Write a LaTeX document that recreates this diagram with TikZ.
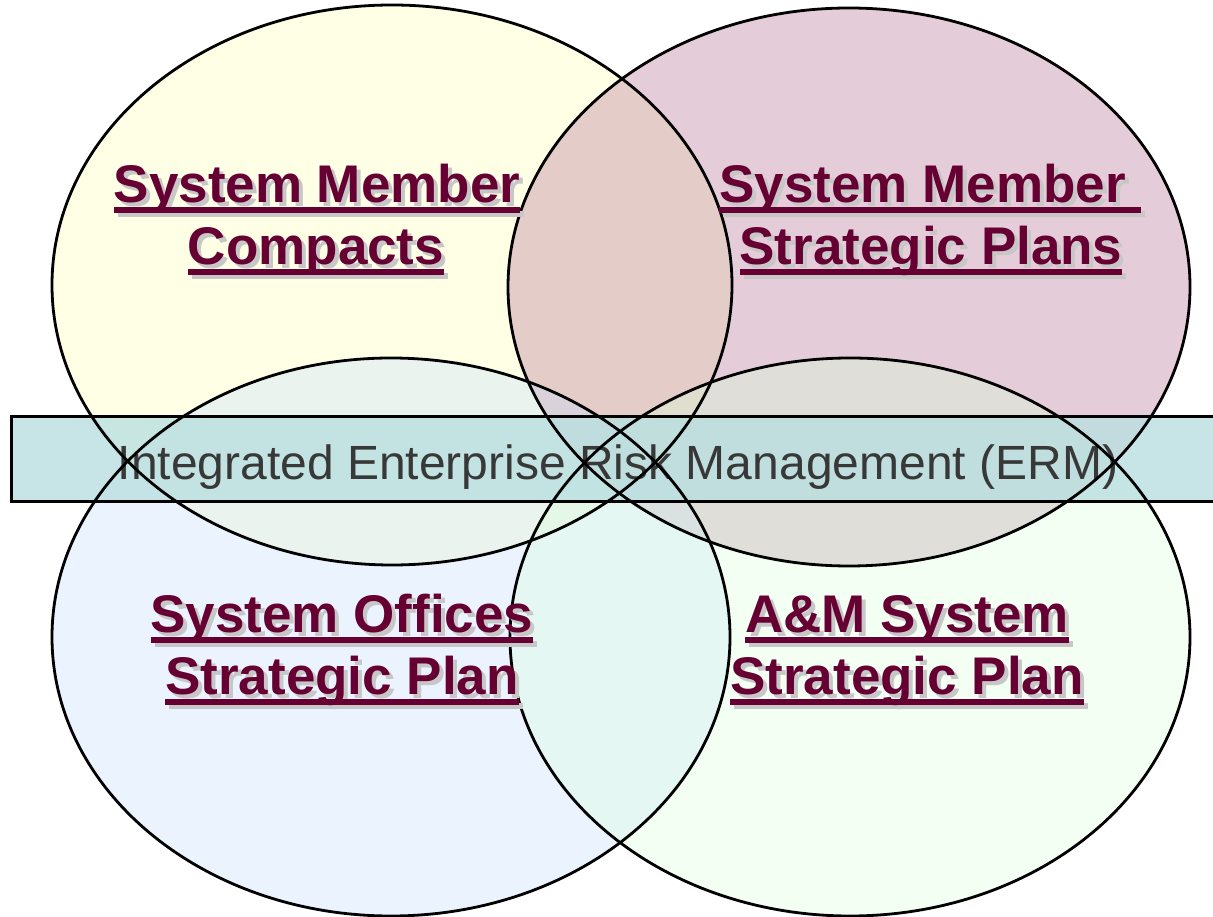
\documentclass[tikz,border=0pt]{standalone}
\usepackage{fontspec}
\setmainfont{Liberation Sans}
\definecolor{lblcol}{HTML}{660033}
\definecolor{ermfill}{HTML}{B9DFE0}
\definecolor{tlfill}{HTML}{FFFFB8}
\definecolor{trfill}{HTML}{B27092}
\definecolor{blfill}{HTML}{C8DDFF}
\definecolor{brfill}{HTML}{DAFFDA}
\newcommand\ulbox[1]{\setbox0\hbox{#1}\rlap{\copy0}\rule[-10pt]{\wd0}{6pt}}
\newcommand\shadowul[1]{\rlap{\kern4pt\raisebox{-4pt}{\color{black!22}\ulbox{#1}}}\ulbox{#1}}
\tikzset{
  vennfill/.style={fill opacity=0.35},
  vennline/.style={draw=black, line width=2.8pt},
  lbl/.style={anchor=base, inner sep=0pt, text=lblcol, font=\fontsize{53}{62}\selectfont\bfseries},
  ermbox/.style={draw=black, line width=2.8pt, fill=ermfill, fill opacity=0.8},
}
\begin{document}
\begin{tikzpicture}[x=1pt,y=1pt]
\useasboundingbox (0,0) rectangle (1213,916);
\clip (0,0) rectangle (1213,916);
\fill[white] (0,0) rectangle (1213,916);
% ellipse fills
\path[vennfill, fill=tlfill] (392,631) ellipse [x radius=340, y radius=280];
\path[vennfill, fill=trfill] (849,629) ellipse [x radius=341, y radius=279];
\path[vennfill, fill=blfill] (391,279) ellipse [x radius=339, y radius=279];
\path[vennfill, fill=brfill] (850,279) ellipse [x radius=340, y radius=279];
% ERM band
\node[ermbox, minimum width=1215pt, minimum height=85pt, anchor=south west, inner sep=0pt] (erm) at (10,413) {};
\node[anchor=base, inner sep=0pt, text=black!78, font=\fontsize{48}{56}\selectfont] (ermtext) at (618,436) {Integrated Enterprise Risk Management (ERM)};
% ellipse outlines
\draw[vennline] (392,631) ellipse [x radius=340, y radius=280];
\draw[vennline] (849,629) ellipse [x radius=341, y radius=279];
\draw[vennline] (391,279) ellipse [x radius=339, y radius=279];
\draw[vennline] (850,279) ellipse [x radius=340, y radius=279];
% labels
\node[lbl] (tla) at (317,713) {\shadowul{System Member}};
\node[lbl] (tlb) at (316,651) {\shadowul{Compacts}};
\node[lbl] (tra) at (930,713) {\shadowul{System Member\ }};
\node[lbl] (trb) at (931,651) {\shadowul{Strategic Plans}};
\node[lbl] (bla) at (342,283) {\shadowul{System Offices}};
\node[lbl] (blb) at (342,221) {\shadowul{Strategic Plan}};
\node[lbl] (bra) at (907,283) {\shadowul{A\&M System}};
\node[lbl] (brb) at (907,221) {\shadowul{Strategic Plan}};
\end{tikzpicture}
\end{document}
